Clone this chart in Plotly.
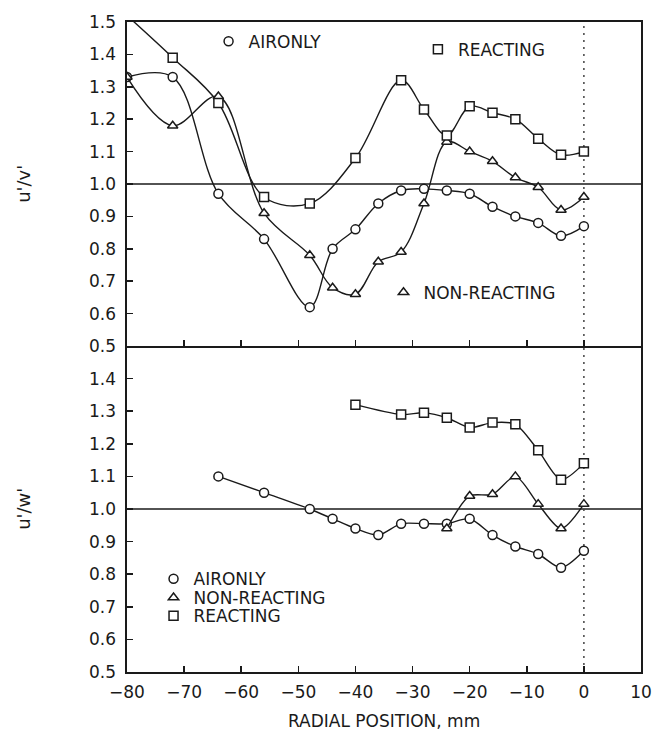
import plotly.graph_objects as go

# ---- data ----
x_uv_air = [-80, -72, -64, -56, -48, -44, -40, -36, -32, -28, -24, -20, -16, -12, -8, -4, 0]
uv_air = [1.33, 1.33, 0.97, 0.83, 0.62, 0.80, 0.86, 0.94, 0.98, 0.985, 0.98, 0.97, 0.93, 0.90, 0.88, 0.84, 0.87]

x_uv_non = [-80, -72, -64, -56, -48, -44, -40, -36, -32, -28, -24, -20, -16, -12, -8, -4, 0]
uv_non = [1.33, 1.18, 1.27, 0.91, 0.78, 0.68, 0.66, 0.76, 0.79, 0.94, 1.13, 1.10, 1.07, 1.02, 0.99, 0.92, 0.96]

x_uv_rea = [-80, -72, -64, -56, -48, -40, -32, -28, -24, -20, -16, -12, -8, -4, 0]
uv_rea = [1.52, 1.39, 1.25, 0.96, 0.94, 1.08, 1.32, 1.23, 1.15, 1.24, 1.22, 1.20, 1.14, 1.09, 1.10]

x_uw_air = [-64, -56, -48, -44, -40, -36, -32, -28, -24, -20, -16, -12, -8, -4, 0]
uw_air = [1.10, 1.05, 1.00, 0.97, 0.94, 0.92, 0.955, 0.955, 0.955, 0.97, 0.92, 0.885, 0.862, 0.82, 0.872]

x_uw_non = [-24, -20, -16, -12, -8, -4, 0]
uw_non = [0.94, 1.04, 1.045, 1.10, 1.015, 0.94, 1.015]

x_uw_rea = [-40, -32, -28, -24, -20, -16, -12, -8, -4, 0]
uw_rea = [1.32, 1.29, 1.295, 1.28, 1.25, 1.265, 1.26, 1.18, 1.09, 1.14]

series_names = ["AIRONLY", "NON-REACTING", "REACTING"]
x_ticks = [-80, -70, -60, -50, -40, -30, -20, -10, 0, 10]
y_ticks_top = [0.5, 0.6, 0.7, 0.8, 0.9, 1.0, 1.1, 1.2, 1.3, 1.4, 1.5]
y_ticks_bot = [0.5, 0.6, 0.7, 0.8, 0.9, 1.0, 1.1, 1.2, 1.3, 1.4]

FONT = "DejaVu Sans"
INK = "#1a1a1a"
symbols = {"AIRONLY": "circle", "NON-REACTING": "triangle-up", "REACTING": "square"}


def mk(name):
    return dict(symbol=symbols[name], size=9, color="white", line=dict(color=INK, width=1.5))


fig = go.Figure()

top = [("AIRONLY", x_uv_air, uv_air), ("NON-REACTING", x_uv_non, uv_non), ("REACTING", x_uv_rea, uv_rea)]
bot = [("AIRONLY", x_uw_air, uw_air), ("NON-REACTING", x_uw_non, uw_non), ("REACTING", x_uw_rea, uw_rea)]

for name, xs, ys in top:
    fig.add_trace(go.Scatter(x=xs, y=ys, mode="lines+markers", xaxis="x2", yaxis="y2",
                             line=dict(color=INK, width=1.4, shape="spline", smoothing=1.0),
                             marker=mk(name), showlegend=False))
for name, xs, ys in bot:
    fig.add_trace(go.Scatter(x=xs, y=ys, mode="lines+markers", xaxis="x", yaxis="y",
                             line=dict(color=INK, width=1.4, shape="spline", smoothing=0.8),
                             marker=mk(name), showlegend=False))

# legend entries (marker only), each in its own legend box
top_leg = {"AIRONLY": "legend", "REACTING": "legend2", "NON-REACTING": "legend3"}
bot_leg = {"AIRONLY": "legend4", "NON-REACTING": "legend5", "REACTING": "legend6"}
for name in series_names:
    fig.add_trace(go.Scatter(x=[None], y=[None], mode="markers", name=name, marker=mk(name),
                             xaxis="x2", yaxis="y2", legend=top_leg[name], showlegend=True))
for name in series_names:
    fig.add_trace(go.Scatter(x=[None], y=[None], mode="markers", name=name, marker=mk(name),
                             xaxis="x", yaxis="y", legend=bot_leg[name], showlegend=True))

leg_common = dict(bgcolor="rgba(0,0,0,0)", borderwidth=0, font=dict(family=FONT, size=17, color=INK),
                  itemclick=False, itemdoubleclick=False, xanchor="left", yanchor="middle")

axis_common = dict(range=[-80, 10], tickvals=x_ticks, ticks="inside", ticklen=6, tickwidth=1.5,
                   tickcolor=INK, showline=True, linecolor=INK, linewidth=1.6,
                   showgrid=False, zeroline=False)
yaxis_common = dict(ticks="inside", ticklen=6, tickwidth=1.5, tickcolor=INK, showline=True,
                    linecolor=INK, linewidth=1.6, mirror=True, showgrid=False, zeroline=False,
                    tickformat=".1f", tickfont=dict(family=FONT, size=17, color=INK),
                    ticklabelstandoff=6, ticklabeloverflow="allow")

PL, PR, PT, PB = 127, 650, 14, 672      # plot area in page pixels
PW, PH = PR - PL, PB - PT
split = 330 / PH


def px(x):
    return (x - PL) / PW


def py(y):
    return (PB - y) / PH


fig.update_layout(
    width=664, height=740, autosize=False,
    margin=dict(l=PL, r=664 - PR, t=PT, b=740 - PB),
    paper_bgcolor="white", plot_bgcolor="white",
    font=dict(family=FONT, color=INK),
    hovermode=False,
    xaxis=dict(**axis_common, anchor="y", mirror=False, tickfont=dict(family=FONT, size=17, color=INK),
               ticklabelstandoff=4, ticklabeloverflow="allow"),
    xaxis2=dict(**axis_common, anchor="y2", mirror=True, matches="x", showticklabels=False),
    yaxis=dict(**yaxis_common, domain=[0, split], range=[0.5, 1.5], tickvals=y_ticks_bot, anchor="x"),
    yaxis2=dict(**yaxis_common, domain=[split, 1], range=[0.5, 1.5], tickvals=y_ticks_top, anchor="x2"),
    legend=dict(**leg_common, x=px(210), y=py(34)),
    legend2=dict(**leg_common, x=px(423), y=py(42)),
    legend3=dict(**leg_common, x=px(388), y=py(288)),
    legend4=dict(**leg_common, x=px(154), y=py(578)),
    legend5=dict(**leg_common, x=px(154), y=py(597)),
    legend6=dict(**leg_common, x=px(154), y=py(615.5)),
    shapes=[
        dict(type="line", xref="x2 domain", x0=0, x1=1, yref="y2", y0=1.0, y1=1.0,
             line=dict(color=INK, width=1.5), layer="below"),
        dict(type="line", xref="x domain", x0=0, x1=1, yref="y", y0=1.0, y1=1.0,
             line=dict(color=INK, width=1.5), layer="below"),
        dict(type="line", xref="x", x0=0, x1=0, yref="paper", y0=0, y1=1,
             line=dict(color="#444", width=1.5, dash="2px,5px"), layer="below"),
    ],
    annotations=[
        dict(text="u'/v'", xref="paper", yref="y2", x=px(21), y=1.0, showarrow=False,
             textangle=-90, font=dict(family=FONT, size=18, color=INK), xanchor="center", yanchor="middle"),
        dict(text="u'/w'", xref="paper", yref="y", x=px(21), y=1.0, showarrow=False,
             textangle=-90, font=dict(family=FONT, size=18, color=INK), xanchor="center", yanchor="middle"),
        dict(text="RADIAL POSITION, mm", xref="paper", yref="paper", x=0.5, y=py(722),
             showarrow=False, font=dict(family=FONT, size=17, color=INK), xanchor="center", yanchor="middle"),
    ],
)

# the page body's default 8px margin would shift the figure; remove it
fig.write_html("out.html", config={"displayModeBar": False, "staticPlot": True},
               post_script="document.body.style.margin='0';")
